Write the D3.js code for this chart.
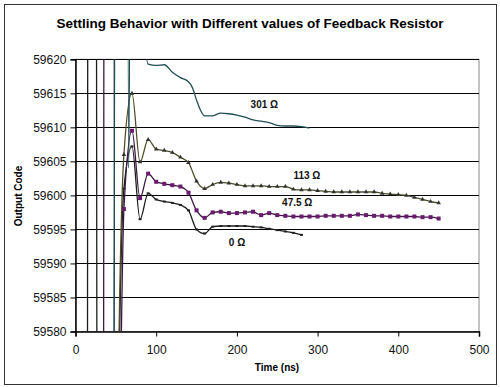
<!DOCTYPE html>
<html>
<head>
<meta charset="utf-8">
<script src="https://cdn.jsdelivr.net/npm/d3@7"></script>
<style>
  body { margin: 0; background: #fff; }
  text { font-family: "Liberation Sans", Arial, sans-serif; }
</style>
</head>
<body>
<svg id="chart" width="500" height="387"></svg>
<script>
// time axis in ns, 10 ns sampling
const timeNs = [0, 10, 20, 30, 40, 50, 60, 70, 80, 90, 100, 110, 120, 130, 140, 150, 160, 170, 180, 190,
    200, 210, 220, 230, 240, 250, 260, 270, 280, 290, 300, 310, 320, 330, 340, 350, 360, 370, 380, 390,
    400, 410, 420, 430, 440, 450];

// 0 ohm (ends at 280 ns)
const code0 = [59000, 59000, 60200, 59200, 59000, 59530, 59601, 59607.2, 59596.5, 59600.3, 59599.4, 59599.1,
    59598.9, 59598.6, 59597.8, 59595.0, 59594.4, 59595.4, 59595.5, 59595.5, 59595.5, 59595.5, 59595.4,
    59595.3, 59595.1, 59594.9, 59594.7, 59594.5, 59594.2];

// 47.5 ohm
const code47 = [59000, 59000, 59000, 59000, 60200, 59536, 59598, 59609.5, 59599.6, 59603.2, 59602.0, 59601.7,
    59601.5, 59601.3, 59600.4, 59597.8, 59596.7, 59597.5, 59597.6, 59597.4, 59597.4, 59597.5, 59597.6,
    59597.1, 59597.4, 59597.1, 59597.0, 59596.9, 59596.9, 59596.9, 59596.9, 59597.0, 59597.0, 59597.0,
    59597.0, 59597.2, 59597.1, 59597.0, 59597.0, 59596.9, 59596.9, 59596.9, 59596.9, 59596.8, 59596.8, 59596.6];

// 113 ohm
const code113 = [59000, 59000, 59000, 59000, 59000, 59540, 59606, 59615.0, 59604.9, 59608.2, 59606.8, 59606.6,
    59606.3, 59605.6, 59604.8, 59602.1, 59601.0, 59601.6, 59601.9, 59601.8, 59601.6, 59601.4, 59601.4,
    59601.4, 59601.3, 59601.3, 59601.3, 59600.9, 59600.8, 59600.8, 59600.7, 59600.6, 59600.5, 59600.5,
    59600.5, 59600.5, 59600.5, 59600.5, 59600.3, 59600.2, 59600.1, 59600.0, 59599.7, 59599.4, 59599.1, 59598.9];

// 301 ohm, own time points
const time301 = [0, 10, 20, 30, 40, 50, 60, 66, 70, 80, 90, 100, 110, 120, 130, 140, 145, 150, 155, 160,
    170, 180, 190, 200, 210, 220, 230, 240, 250, 260, 270, 280, 290];
const code301 = [59000, 59000, 59000, 59000, 59200, 59700, 59900, 59604, 59700, 59640, 59619.3, 59619.1,
    59619.2, 59618.1, 59617.3, 59616.7, 59615.8, 59614.0, 59612.5, 59611.7, 59611.7, 59612.1, 59612.0,
    59611.8, 59611.5, 59611.1, 59610.9, 59610.7, 59610.3, 59610.2, 59610.2, 59610.1, 59609.9];

const xTicks = [0, 100, 200, 300, 400, 500];
const yTicks = [59580, 59585, 59590, 59595, 59600, 59605, 59610, 59615, 59620];

const seriesLabels = ["0 Ω", "47.5 Ω", "113 Ω", "301 Ω"];
const labelPos = [[190, 59592.6], [256, 59598.4], [270, 59602.4], [217, 59612.8]]; // [time, code] anchors

const svg = d3.select("#chart");
const plotL = 75.5, plotR = 479, plotT = 59.3, plotB = 331.5;

const x = d3.scaleLinear().domain([0, 500]).range([plotL, plotR]);
const y = d3.scaleLinear().domain([59580, 59620]).range([plotB, plotT]);

// outer frame
svg.append("rect")
    .attr("x", 4.5).attr("y", 4.5).attr("width", 492).attr("height", 380)
    .attr("fill", "#fff").attr("stroke", "#333").attr("stroke-width", 1);

svg.append("text")
    .attr("x", 250).attr("y", 28)
    .attr("text-anchor", "middle")
    .attr("font-size", "13.5px").attr("font-weight", "bold")
    .text("Settling Behavior with Different values of Feedback Resistor");

// plot area border
svg.append("rect")
    .attr("x", plotL).attr("y", plotT).attr("width", plotR - plotL).attr("height", plotB - plotT)
    .attr("fill", "none").attr("stroke", "#8a8a8a");

// gridlines
svg.append("g")
    .selectAll("line")
    .data(yTicks.slice(1))
    .enter().append("line")
    .attr("x1", plotL).attr("x2", plotR)
    .attr("y1", d => Math.round(y(d)) + 0.5).attr("y2", d => Math.round(y(d)) + 0.5)
    .attr("stroke", "#000").attr("stroke-width", 1);

// axes
const yAxis = svg.append("g")
    .attr("transform", "translate(" + plotL + ",0)")
    .call(d3.axisLeft(y).tickValues(yTicks).tickSize(5).tickPadding(4).tickFormat(d3.format("d")));
const xAxis = svg.append("g")
    .attr("transform", "translate(0," + plotB + ")")
    .call(d3.axisBottom(x).tickValues(xTicks).tickSize(5).tickPadding(9));
[yAxis, xAxis].forEach(g => {
    g.select(".domain").attr("stroke", "#000").attr("stroke-width", 1.5);
    g.selectAll(".tick line").attr("stroke", "#000");
    g.selectAll(".tick text").attr("font-size", "12px").attr("fill", "#111")
        .attr("font-family", "'Liberation Sans', Arial, sans-serif");
});

svg.append("text")
    .attr("transform", "translate(22,196) rotate(-90)")
    .attr("text-anchor", "middle")
    .attr("font-size", "10px").attr("font-weight", "bold")
    .text("Output Code");
svg.append("text")
    .attr("x", 277).attr("y", 371)
    .attr("text-anchor", "middle")
    .attr("font-size", "10px").attr("font-weight", "bold")
    .text("Time (ns)");

// clip for data
svg.append("clipPath").attr("id", "plotClip")
    .append("rect")
    .attr("x", plotL).attr("y", plotT).attr("width", plotR - plotL).attr("height", plotB - plotT);

const plot = svg.append("g").attr("clip-path", "url(#plotClip)");

const series = [
    { t: timeNs, v: code0, line: "#1c1c1c", marker: "dash", mcolor: "#222" },
    { t: timeNs, v: code47, line: "#3e1844", marker: "square", mcolor: "#6a1a6e" },
    { t: timeNs, v: code113, line: "#4e4e26", marker: "triangle", mcolor: "#333" },
    { t: time301, v: code301, line: "#224f52", marker: null }
];

const line = d3.line()
    .x(d => x(d[0]))
    .y(d => y(d[1]))
    .curve(d3.curveMonotoneX);

series.forEach(s => {
    const pts = s.v.map((v, i) => [s.t[i], v]);
    plot.append("path")
        .attr("d", line(pts))
        .attr("fill", "none")
        .attr("stroke", s.line)
        .attr("stroke-width", 1.3);

    if (s.marker === "square") {
        plot.selectAll(null).data(pts).enter().append("rect")
            .attr("x", d => x(d[0]) - 2).attr("y", d => y(d[1]) - 2)
            .attr("width", 4).attr("height", 4)
            .attr("fill", s.mcolor);
    } else if (s.marker === "triangle") {
        plot.selectAll(null).data(pts).enter().append("path")
            .attr("d", d3.symbol().type(d3.symbolTriangle).size(9))
            .attr("transform", d => "translate(" + x(d[0]) + "," + y(d[1]) + ")")
            .attr("fill", s.mcolor);
    } else if (s.marker === "dash") {
        plot.selectAll(null).data(pts).enter().append("rect")
            .attr("x", d => x(d[0]) - 1.5).attr("y", d => y(d[1]) - 1)
            .attr("width", 3).attr("height", 2)
            .attr("fill", s.mcolor);
    }
});

// series labels
svg.append("g")
    .selectAll("text")
    .data(seriesLabels)
    .enter().append("text")
    .attr("x", (d, i) => x(labelPos[i][0]))
    .attr("y", (d, i) => y(labelPos[i][1]))
    .attr("font-size", "10px").attr("font-weight", "bold")
    .attr("fill", "#111")
    .text(d => d);
</script>
</body>
</html>
